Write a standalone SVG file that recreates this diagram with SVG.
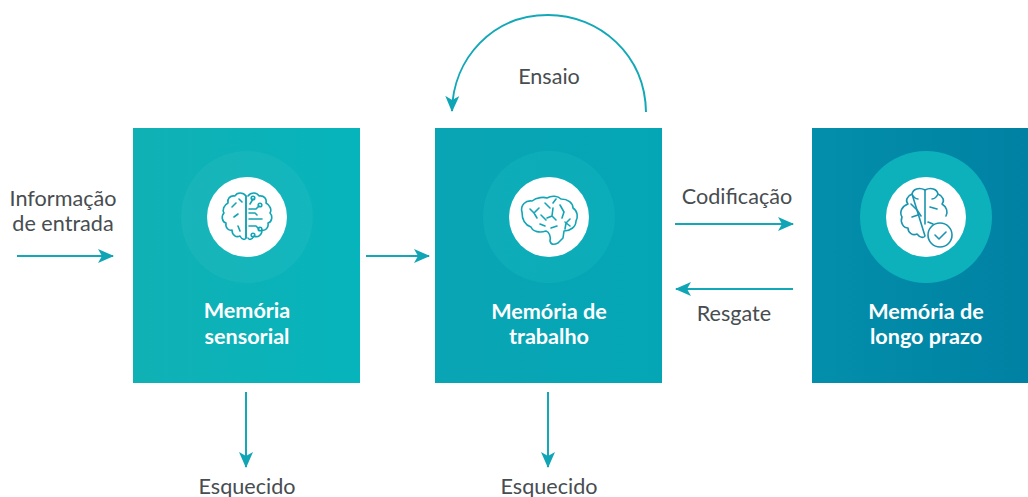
<svg xmlns="http://www.w3.org/2000/svg" width="1028" height="497" viewBox="0 0 1028 497">
<style>
.t{font-family:Lato,"Noto Sans",sans-serif;font-size:21.6px;fill:#474d50;text-anchor:middle}
.n{font-family:Lato,"Noto Sans",sans-serif;font-size:21.6px;font-weight:700;fill:#fff;text-anchor:middle}
.c{fill:none;stroke:#12a8b8;stroke-width:2}
.i{fill:none;stroke:#12a5b5;stroke-width:1.6;stroke-linecap:round;stroke-linejoin:round}
.j{fill:none;stroke:#1a94b0;stroke-width:1.6;stroke-linecap:round;stroke-linejoin:round}
</style>
<defs>
<marker id="a" viewBox="0 0 16 14" refX="15" refY="7" markerWidth="16" markerHeight="14" markerUnits="userSpaceOnUse" orient="auto"><path d="M0 0L16 7L0 14L4 7Z" fill="#0fa5b5"/></marker>
<linearGradient id="g1" x1="0" y1="0" x2="1" y2="0"><stop offset="0" stop-color="#10b1b5"/><stop offset="1" stop-color="#06b4bb"/></linearGradient>
<linearGradient id="g2" x1="0" y1="0" x2="1" y2="0"><stop offset="0" stop-color="#0aa5b4"/><stop offset="1" stop-color="#04a6b6"/></linearGradient>
<linearGradient id="g3" x1="0" y1="0" x2="1" y2="0"><stop offset="0" stop-color="#038fab"/><stop offset="1" stop-color="#0081a3"/></linearGradient>
</defs>
<g id="connectors">
<path class="c" d="M17 256H113" marker-end="url(#a)"/>
<path class="c" d="M366 256H429" marker-end="url(#a)"/>
<path class="c" d="M675 224H793" marker-end="url(#a)"/>
<path class="c" d="M793 289H676" marker-end="url(#a)"/>
<path class="c" d="M246 392V467" marker-end="url(#a)"/>
<path class="c" d="M548 392V467" marker-end="url(#a)"/>
<path class="c" d="M646 112C645 55 600 15 548 15C493 15 453 58 452 111" marker-end="url(#a)"/>
</g>
<g id="label-entrada"><text class="t" x="63" y="206">Informação</text><text class="t" x="63" y="231">de entrada</text></g>
<g id="label-ensaio"><text class="t" x="549" y="84">Ensaio</text></g>
<g id="label-codificacao"><text class="t" x="737" y="204">Codificação</text></g>
<g id="label-resgate"><text class="t" x="734" y="321">Resgate</text></g>
<g id="label-esquecido-1"><text class="t" x="247" y="494">Esquecido</text></g>
<g id="label-esquecido-2"><text class="t" x="549" y="494">Esquecido</text></g>
<g id="node-sensorial">
<rect x="133" y="128" width="227" height="255" fill="url(#g1)"/>
<circle cx="247" cy="217" r="66" fill="#fff" fill-opacity=".045"/>
<circle cx="247" cy="217" r="40" fill="#fff"/>
<path class="i" d="M246 196C243 192 237 192 235 196C230 195 227 199 228 203C224 205 222 210 224 213C221 216 222 222 226 223C225 228 229 231 232 230C232 235 236 238 240 236C242 240 245 240 246 238Z"/>
<path class="i" d="M246 196V238M248 196C251 192 257 192 259 196C264 195 267 199 266 203C270 205 272 210 270 213C273 216 272 222 268 223C269 228 265 231 262 230C262 235 258 238 254 236C252 240 249 240 248 238"/>
<path class="i" d="M249 209H256L259 206M249 219H262M249 213H255L257 215M249 226H256L259 229M253 199L250 204M232 207L236 203M234 217L238 214M238 226L240 231M239 199L242 202"/>
<circle class="i" cx="253" cy="198" r="1.800"/><circle class="i" cx="260" cy="205" r="1.800"/><circle class="i" cx="260" cy="229" r="1.800"/><circle class="i" cx="253" cy="235" r="1.800"/>
<text class="n" x="247" y="318">Memória</text><text class="n" x="247" y="344">sensorial</text>
</g>
<g id="node-trabalho">
<rect x="435" y="128" width="227" height="255" fill="url(#g2)"/>
<circle cx="549" cy="217" r="66" fill="#19bcc2" fill-opacity=".3"/>
<circle cx="549" cy="217" r="40" fill="#fff"/>
<path class="i" d="M522 212C520 205 526 200 532 201C537 197 544 197 547 198C552 195 558 196 561 199C568 199 573 203 573 208C578 211 578 218 576 221C576 227 570 231 564 231L563 238L558 243C554 245 551 245 550 241C551 236 549 232 546 231C540 233 533 232 531 227C525 225 522 219 522 212Z"/>
<path class="i" d="M530 209L534 213L539 208M534 213L537 218M541 215L546 220M545 203L550 208M553 203L556 199M553 208L552 216L556 220M552 216L547 218M560 205L564 212L562 218M565 222L570 226M570 219L566 223L565 229M551 228L557 226M540 224L545 226"/>
<text class="n" x="549" y="319">Memória de</text><text class="n" x="549" y="344">trabalho</text>
</g>
<g id="node-longo-prazo">
<rect x="812" y="128" width="216" height="255" fill="url(#g3)"/>
<circle cx="926" cy="217" r="66" fill="#0db1bc"/>
<circle cx="926" cy="217" r="40" fill="#fff"/>
<path class="j" d="M925 190C919 187 913 189 912 194C914 198 916 199 918 199M912 194C907 196 905 201 908 204C902 206 899 212 902 217C900 222 903 228 908 228C908 233 913 236 917 234C920 238 924 238 925 236Z"/>
<path class="j" d="M925 190V224M925 190C931 187 937 189 938 194C936 198 934 199 932 199M938 194C943 196 945 201 942 204C947 207 948 212 946 216"/>
<path class="j" d="M911 204L917 210L921 216M930 207L937 209M912 217L918 215M928 222L933 224"/>
<circle fill="#fff" stroke="#1a94b0" stroke-width="1.600" cx="940" cy="235" r="12"/>
<path class="j" d="M935 235L939 239L946 232"/>
<text class="n" x="926" y="319">Memória de</text><text class="n" x="926" y="344">longo prazo</text>
</g>
</svg>
